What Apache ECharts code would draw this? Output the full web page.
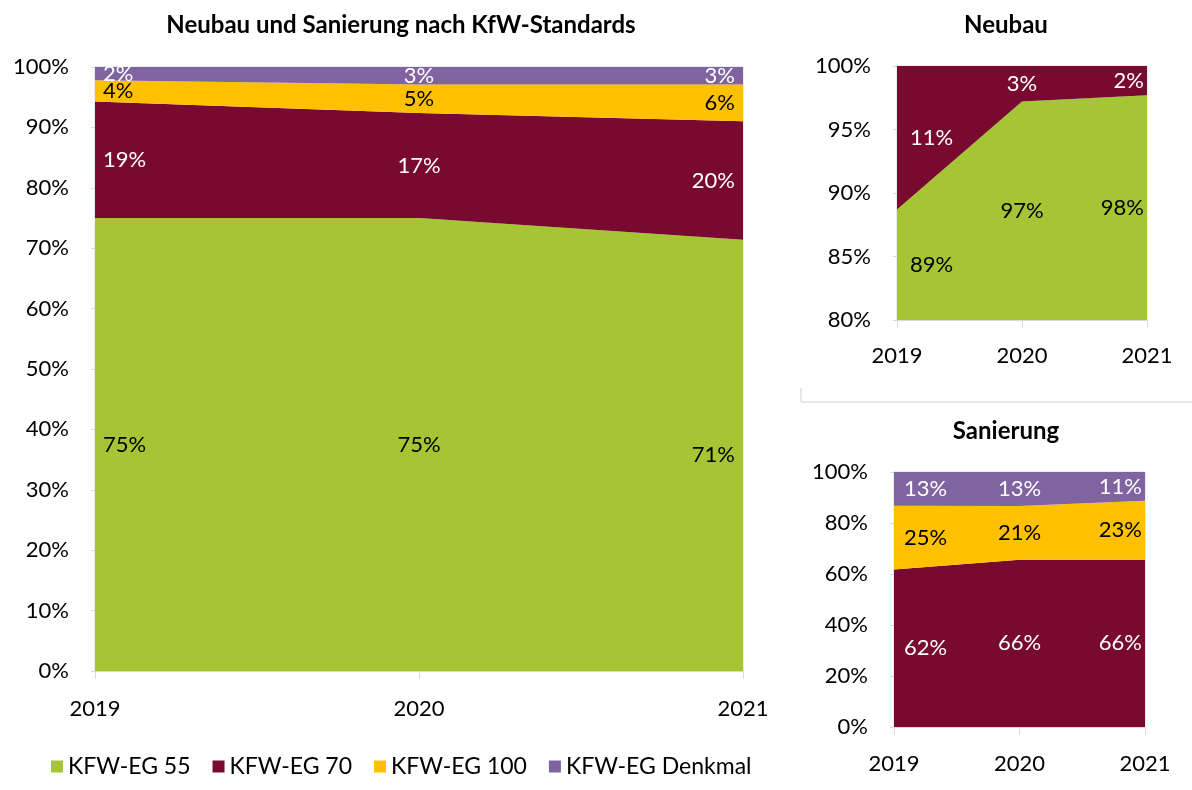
<!DOCTYPE html>
<html>
<head>
<meta charset="utf-8">
<script src="https://cdn.jsdelivr.net/npm/echarts@6/dist/echarts.min.js"></script>
<style>
  html, body { margin: 0; padding: 0; background: #fff; }
  #chart { width: 1192px; height: 790px; }
</style>
</head>
<body>
<div id="chart"></div>
<script>
// Jahre und Kategorien
const years = ['2019', '2020', '2021']
const standards = ['KFW-EG 55', 'KFW-EG 70', 'KFW-EG 100', 'KFW-EG Denkmal']

// Gesamt (Neubau und Sanierung), Anteile in %
const gesamt55 = [75.0, 75.0, 71.4]
const gesamt70 = [19.3, 17.4, 19.6]
const gesamt100 = [3.5, 4.7, 6.1]
const gesamtDenkmal = [2.2, 2.9, 2.9]

// Neubau
const neubau55 = [88.7, 97.2, 97.7]
const neubau70 = [11.3, 2.8, 2.3]

// Sanierung
const sanierung70 = [61.8, 65.6, 65.6]
const sanierung100 = [25.0, 21.1, 23.1]
const sanierungDenkmal = [13.2, 13.3, 11.3]

const colors = ['#a5c535', '#770a2e', '#ffc000', '#8064a2']
const labelColors = ['#000000', '#ffffff', '#000000', '#ffffff']
const FONT = 'Lato'

function buildPanel (grid, layers, yMin, distLeft, distRight) {
  const out = []
  layers.forEach((layer) => {
    out.push({
      name: standards[layer.idx],
      type: 'line',
      stack: 'panel' + grid,
      xAxisIndex: grid,
      yAxisIndex: grid,
      data: layer.data,
      symbol: 'none',
      lineStyle: { width: 0 },
      itemStyle: { color: colors[layer.idx] },
      areaStyle: { color: colors[layer.idx], opacity: 1 },
      silent: true
    })
  })
  // Beschriftungen in der Mitte jeder Fläche
  const labelData = []
  years.forEach((y, j) => {
    let lower = 0
    layers.forEach((layer) => {
      const v = layer.data[j]
      const upper = lower + v
      const mid = (Math.max(lower, yMin) + upper) / 2
      let pos = 'inside'
      let dist = 0
      if (j === 0) { pos = 'right'; dist = distLeft }
      if (j === years.length - 1) { pos = 'left'; dist = distRight }
      labelData.push({
        value: [j, mid],
        label: {
          show: true,
          position: pos,
          distance: dist,
          formatter: Math.round(v) + '%',
          color: labelColors[layer.idx],
          textBorderWidth: 0,
          opacity: 1,
          fontSize: 22,
          fontFamily: FONT
        }
      })
      lower = upper
    })
  })
  out.push({
    name: 'labels' + grid,
    type: 'scatter',
    xAxisIndex: grid,
    yAxisIndex: grid,
    symbolSize: 0,
    silent: true,
    z: 10,
    itemStyle: { opacity: 1 },
    data: labelData
  })
  return out
}

function xAxisCfg (grid, margin) {
  return {
    type: 'category',
    gridIndex: grid,
    data: years,
    boundaryGap: false,
    axisLine: { lineStyle: { color: '#d9d9d9' } },
    axisTick: { show: true, length: 8, lineStyle: { color: '#d9d9d9' } },
    axisLabel: { color: '#000', fontSize: 22, fontFamily: FONT, margin: margin },
    splitLine: { show: false }
  }
}

function yAxisCfg (grid, min, interval) {
  return {
    type: 'value',
    gridIndex: grid,
    min: min,
    max: 100,
    interval: interval,
    axisLine: { show: true, lineStyle: { color: '#d9d9d9' } },
    axisTick: { show: true, length: 4, lineStyle: { color: '#d9d9d9' } },
    axisLabel: { color: '#000', fontSize: 22, fontFamily: FONT, margin: 26, formatter: '{value}%' },
    splitLine: { show: false }
  }
}

const chart = echarts.init(document.getElementById('chart'))

const series = [].concat(
  buildPanel(0, [
    { idx: 0, data: gesamt55 },
    { idx: 1, data: gesamt70 },
    { idx: 2, data: gesamt100 },
    { idx: 3, data: gesamtDenkmal }
  ], 0, 8, 8),
  buildPanel(1, [
    { idx: 0, data: neubau55 },
    { idx: 1, data: neubau70 }
  ], 80, 13, 3),
  buildPanel(2, [
    { idx: 1, data: sanierung70 },
    { idx: 2, data: sanierung100 },
    { idx: 3, data: sanierungDenkmal }
  ], 0, 10, 3)
)

const titleStyle = { color: '#000', fontSize: 24, fontWeight: 'bold', fontFamily: FONT }

chart.setOption({
  animation: false,
  textStyle: { fontFamily: FONT },
  title: [
    { text: 'Neubau und Sanierung nach KfW-Standards', left: 396, top: 8, textAlign: 'center', textStyle: titleStyle },
    { text: 'Neubau', left: 1001, top: 8, textAlign: 'center', textStyle: titleStyle },
    { text: 'Sanierung', left: 1001, top: 414, textAlign: 'center', textStyle: titleStyle }
  ],
  legend: {
    data: standards,
    left: 46,
    top: 750,
    icon: 'rect',
    itemWidth: 12,
    itemHeight: 12,
    itemGap: 22,
    textStyle: { color: '#000', fontSize: 23, fontFamily: FONT },
    selectedMode: false
  },
  grid: [
    { left: 95, right: 449, top: 67, bottom: 119, show: true, borderColor: '#d9d9d9', borderWidth: 1 },
    { left: 897, right: 45, top: 66, bottom: 470, show: true, borderColor: '#d9d9d9', borderWidth: 1 },
    { left: 894, right: 47, top: 472, bottom: 63, show: true, borderColor: '#d9d9d9', borderWidth: 1 }
  ],
  xAxis: [xAxisCfg(0, 27), xAxisCfg(1, 25), xAxisCfg(2, 26)],
  yAxis: [yAxisCfg(0, 0, 10), yAxisCfg(1, 80, 5), yAxisCfg(2, 0, 20)],
  graphic: [
    { type: 'polyline', shape: { points: [[801, 388], [801, 402], [1192, 402]] }, style: { stroke: '#d0d0d0', lineWidth: 1, fill: null } }
  ],
  series: series
})
</script>
</body>
</html>
